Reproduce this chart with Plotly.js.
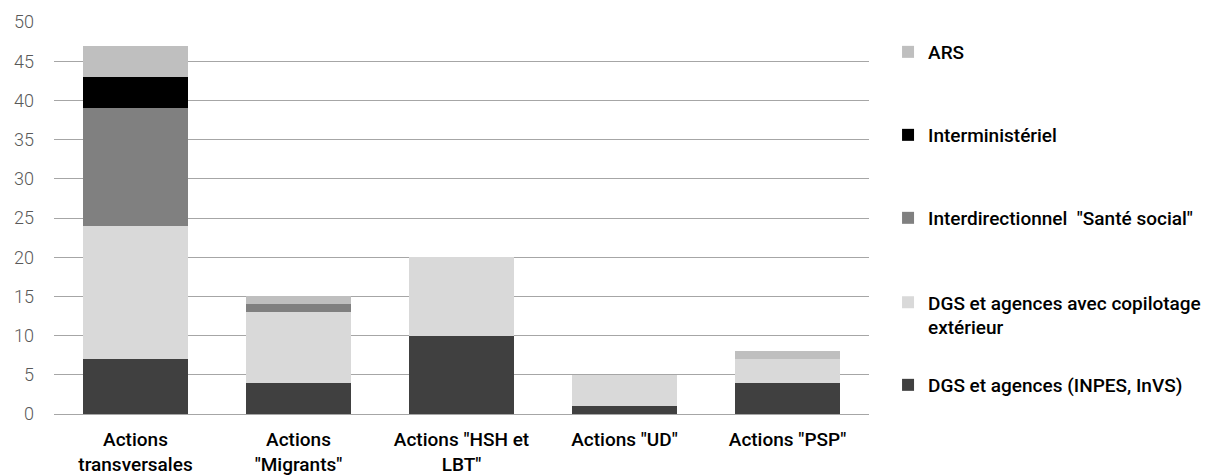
<!DOCTYPE html>
<html>
<head>
<meta charset="utf-8">
<script src="https://cdn.plot.ly/plotly-3.0.1.min.js"></script>
<style>
html,body{margin:0;padding:0;background:#fff;}
#chart{width:1214px;height:475px;}
</style>
</head>
<body>
<div id="chart"></div>
<script>
const categories = ["Actions<br>transversales", "Actions<br>\"Migrants\"", "Actions \"HSH et<br>LBT\"", "Actions \"UD\"", "Actions \"PSP\""];
const dgsAgences = [7, 4, 10, 1, 4];
const dgsCopilotage = [17, 9, 10, 4, 3];
const interdirectionnel = [15, 1, 0, 0, 0];
const interministeriel = [4, 0, 0, 0, 0];
const ars = [4, 1, 0, 0, 1];
const seriesNames = ["DGS et agences (INPES, InVS)", "DGS et agences avec copilotage<br>extérieur", "Interdirectionnel  \"Santé social\"", "Interministériel", "ARS"];
const yTicks = [0, 5, 10, 15, 20, 25, 30, 35, 40, 45, 50];

const FONT = "Roboto, 'DejaVu Sans', sans-serif";
const colors = ["#404040", "#d9d9d9", "#808080", "#000000", "#bfbfbf"];
const values = [dgsAgences, dgsCopilotage, interdirectionnel, interministeriel, ars];
const legendIds = ["legend5", "legend4", "legend3", "legend2", "legend"];

const traces = values.map((v, i) => ({
  type: "bar",
  x: categories,
  y: v,
  name: seriesNames[i],
  marker: {color: colors[i], line: {width: 0}},
  legend: legendIds[i],
  hoverinfo: "x+y+name"
}));

function leg(y, valign) {
  return {
    xref: "container", yref: "container",
    x: 0.7315, y: y, xanchor: "left", yanchor: "middle",
    font: {family: FONT, size: 19, color: "#000", weight: 500},
    bgcolor: "rgba(0,0,0,0)", borderwidth: 0,
    itemwidth: 30, valign: valign || "middle"
  };
}

const layout = {
  width: 1214, height: 475,
  margin: {l: 54, r: 345, t: 22, b: 61},
  paper_bgcolor: "#fff", plot_bgcolor: "#fff",
  barmode: "stack",
  bargap: 0.355,
  showlegend: true,
  legend: leg(0.8905),
  legend2: leg(0.7158),
  legend3: leg(0.5411),
  legend4: leg(0.3368, "top"),
  legend5: leg(0.1895),
  xaxis: {
    tickfont: {family: FONT, size: 19, color: "#000", weight: 500},
    showline: true, linecolor: "#a6a6a6", linewidth: 1,
    ticks: "", showgrid: false, fixedrange: true,
    ticklabelstandoff: 8
  },
  yaxis: {
    range: [0, 50], tickvals: yTicks, ticktext: yTicks.map(String),
    tickfont: {family: FONT, size: 18, color: "#595959", weight: 300},
    showgrid: true, gridcolor: "#a6a6a6", gridwidth: 1,
    zeroline: false, showline: false, ticks: "", ticklen: 0,
    ticklabelstandoff: 19,
    fixedrange: true
  }
};

Plotly.newPlot("chart", traces, layout, {displayModeBar: false, staticPlot: true});
</script>
</body>
</html>
